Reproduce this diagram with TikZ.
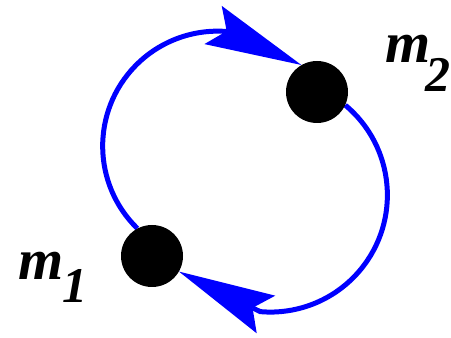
\documentclass[tikz,border=0pt]{standalone}
\usepackage{fontspec}
\setmainfont{Liberation Serif}
\usetikzlibrary{arrows.meta,backgrounds}

\begin{document}
\begin{tikzpicture}[x=1pt,y=1pt,
  mass/.style={circle,fill=black,inner sep=0pt,minimum size=62pt},
  orbit/.style={draw=blue,line width=5pt,-{Stealth[length=97pt,width=42pt,inset=15pt,line width=0pt]}},
  masslabel/.style={anchor=base west,inner sep=0pt,font=\fontsize{58}{58}\selectfont\bfseries\itshape}]
  \useasboundingbox (0,0) rectangle (451,338);
  \node[mass] (m1) at (152,82) {};
  \node[mass] (m2) at (317,246) {};
  \node[masslabel] (l1) at (18,58) {m\kern-1pt\raisebox{-23pt}{\fontsize{50}{50}\selectfont 1}};
  \node[masslabel] (l2) at (385,275) {m\kern-5pt\raisebox{-29pt}{\fontsize{50}{50}\selectfont 2}};
  \begin{scope}[on background layer]
    \draw[orbit] (m1.118) arc[start angle=225.7,end angle=85,radius=115] -- (m2.120);
    \draw[orbit] (m2.-25) arc[start angle=50.2,end angle=-95,radius=117] -- (m1.-30);
  \end{scope}
\end{tikzpicture}
\end{document}
